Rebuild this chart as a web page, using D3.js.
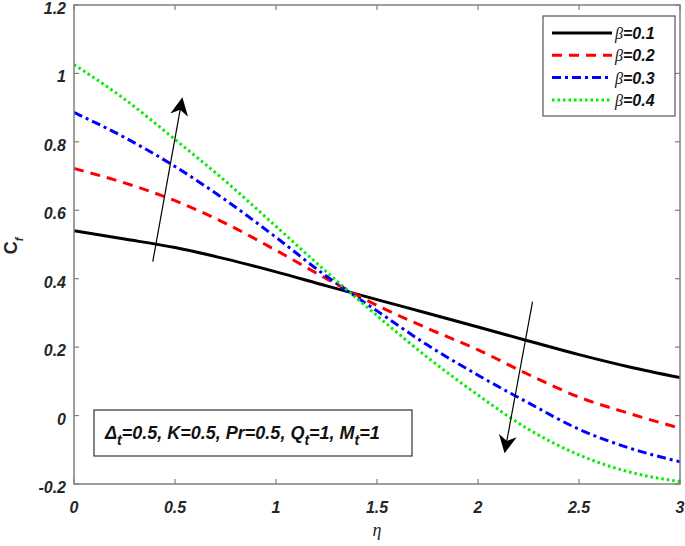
<!DOCTYPE html>
<html>
<head>
  <meta charset="utf-8">
  <script src="https://cdn.jsdelivr.net/npm/d3@7"></script>
  <style>
    body { margin: 0; background: #fff; }
    text { font-family: Arial, "Liberation Sans", sans-serif; }
  </style>
</head>
<body>
  <svg id="chart" width="685" height="546"></svg>
  <script>
    // data
    var eta   = [0, 0.25, 0.5, 0.75, 1.0, 1.25, 1.5, 1.75, 2.0, 2.25, 2.5, 2.75, 3.0];
    var beta1 = [0.540, 0.516, 0.491, 0.458, 0.420, 0.379, 0.339, 0.299, 0.259, 0.218, 0.178, 0.142, 0.111];
    var beta2 = [0.722, 0.680, 0.628, 0.562, 0.483, 0.400, 0.322, 0.255, 0.192, 0.120, 0.054, 0.006, -0.037];
    var beta3 = [0.886, 0.813, 0.728, 0.630, 0.521, 0.407, 0.306, 0.206, 0.118, 0.037, -0.040, -0.095, -0.135];
    var beta4 = [1.026, 0.925, 0.807, 0.685, 0.553, 0.420, 0.292, 0.170, 0.060, -0.040, -0.115, -0.165, -0.193];
    var seriesNames = ["0.1", "0.2", "0.3", "0.4"];
    var xTicks = [0, 0.5, 1, 1.5, 2, 2.5, 3];
    var yTicks = [-0.2, 0, 0.2, 0.4, 0.6, 0.8, 1, 1.2];
    // arrow annotations [eta, value] tail -> tip
    var arrowUp   = [[0.39, 0.45], [0.535, 0.925]];
    var arrowDown = [[2.27, 0.333], [2.133, -0.105]];

    var svg = d3.select("#chart");
    var margin = {top: 5, bottom: 62, left: 74, right: 5};
    var width  = 685 - margin.left - margin.right;
    var height = 546 - margin.top - margin.bottom;

    var x = d3.scaleLinear().domain([0, 3]).range([margin.left, margin.left + width]);
    var y = d3.scaleLinear().domain([-0.2, 1.2]).range([margin.top + height, margin.top]);

    var styles = [
      {color: "#000000", dash: null},
      {color: "#ff0000", dash: "10,7"},
      {color: "#0000ff", dash: "9,4,3,4"},
      {color: "#00ee00", dash: "2.5,3"}
    ];
    var allSeries = [beta1, beta2, beta3, beta4];

    var line = d3.line().x(function(d) { return x(d[0]); }).y(function(d) { return y(d[1]); })
                 .curve(d3.curveMonotoneX);

    var defs = svg.append("defs");
    defs.append("clipPath").attr("id", "clip").append("rect")
        .attr("x", margin.left).attr("y", margin.top).attr("width", width).attr("height", height);
    defs.append("marker").attr("id", "head").attr("viewBox", "0 0 10 10")
        .attr("refX", 9).attr("refY", 5).attr("markerWidth", 18).attr("markerHeight", 18)
        .attr("markerUnits", "userSpaceOnUse").attr("orient", "auto")
        .append("path").attr("d", "M0,0 L10,5 L0,10 L3,5 Z").attr("fill", "#000");

    // curves
    var g = svg.append("g").attr("clip-path", "url(#clip)");
    allSeries.forEach(function(s, i) {
      g.append("path").datum(eta.map(function(e, k) { return [e, s[k]]; }))
       .attr("d", line).attr("fill", "none")
       .attr("stroke", styles[i].color).attr("stroke-width", 3)
       .attr("stroke-dasharray", styles[i].dash);
    });

    // axes (box style, ticks inside)
    var axisColor = "#7f7f7f";
    var tickLen = 5;
    var ax = svg.append("g");
    ax.append("rect").attr("x", margin.left).attr("y", margin.top).attr("width", width).attr("height", height)
      .attr("fill", "none").attr("stroke", axisColor).attr("stroke-width", 1.5);
    xTicks.forEach(function(t) {
      ax.append("line").attr("x1", x(t)).attr("x2", x(t)).attr("y1", y(-0.2)).attr("y2", y(-0.2) - tickLen)
        .attr("stroke", axisColor).attr("stroke-width", 1.2);
      ax.append("line").attr("x1", x(t)).attr("x2", x(t)).attr("y1", y(1.2)).attr("y2", y(1.2) + tickLen)
        .attr("stroke", axisColor).attr("stroke-width", 1.2);
      ax.append("text").attr("x", x(t)).attr("y", y(-0.2) + 29).text(t)
        .attr("text-anchor", "middle").style("font-size", "16px").style("font-weight", "bold")
        .style("font-style", "italic").attr("fill", "#262626");
    });
    yTicks.forEach(function(t) {
      ax.append("line").attr("x1", x(0)).attr("x2", x(0) + tickLen).attr("y1", y(t)).attr("y2", y(t))
        .attr("stroke", axisColor).attr("stroke-width", 1.2);
      ax.append("line").attr("x1", x(3)).attr("x2", x(3) - tickLen).attr("y1", y(t)).attr("y2", y(t))
        .attr("stroke", axisColor).attr("stroke-width", 1.2);
      ax.append("text").attr("x", x(0) - 8).attr("y", y(t) + 9).text(t)
        .attr("text-anchor", "end").style("font-size", "16px").style("font-weight", "bold")
        .style("font-style", "italic").attr("fill", "#262626");
    });

    // axis labels
    svg.append("text").attr("x", x(1.5)).attr("y", 536).text("η")
       .attr("text-anchor", "middle").style("font-size", "18px").style("font-style", "italic")
       .style("font-family", "'Times New Roman', 'Liberation Serif', serif").attr("fill", "#262626");
    var yl = svg.append("text").attr("transform", "translate(17,246) rotate(-90)")
       .attr("text-anchor", "middle").attr("fill", "#262626").style("font-size", "18px").style("font-weight", "bold");
    yl.append("tspan").text("C");
    yl.append("tspan").text("f").attr("dy", 6).style("font-size", "11px").style("font-style", "italic");

    // arrows
    [arrowUp, arrowDown].forEach(function(a) {
      svg.append("line").attr("x1", x(a[0][0])).attr("y1", y(a[0][1]))
         .attr("x2", x(a[1][0])).attr("y2", y(a[1][1]))
         .attr("stroke", "#000").attr("stroke-width", 1.2).attr("marker-end", "url(#head)");
    });

    // legend
    var lg = svg.append("g");
    lg.append("rect").attr("x", 543).attr("y", 16).attr("width", 132).attr("height", 100)
      .attr("fill", "#fff").attr("stroke", "#555").attr("stroke-width", 1.2);
    seriesNames.forEach(function(n, i) {
      var ly = 33 + i * 22.3;
      lg.append("line").attr("x1", 552).attr("x2", 612).attr("y1", ly).attr("y2", ly)
        .attr("stroke", styles[i].color).attr("stroke-width", 3).attr("stroke-dasharray", styles[i].dash);
      var t = lg.append("text").attr("x", 615).attr("y", ly + 6).attr("fill", "#111")
        .style("font-size", "16px").style("font-weight", "bold").style("font-style", "italic");
      t.append("tspan").text("β").style("font-family", "'Times New Roman', 'Liberation Serif', serif")
        .style("font-weight", "normal");
      t.append("tspan").text("=" + n);
    });

    // parameter box
    var pb = svg.append("g");
    pb.append("rect").attr("x", 94).attr("y", 410).attr("width", 318).attr("height", 46)
      .attr("fill", "#fff").attr("stroke", "#333").attr("stroke-width", 1.2);
    var pt = pb.append("text").attr("x", 105).attr("y", 439).attr("fill", "#111")
      .style("font-size", "18px").style("font-weight", "bold").style("font-style", "italic");
    var parts = [["Δ", "t", "=0.5, K=0.5, Pr=0.5, "], ["Q", "t", "=1, "], ["M", "t", "=1"]];
    parts.forEach(function(p) {
      pt.append("tspan").text(p[0]);
      pt.append("tspan").text(p[1]).attr("dy", 6).style("font-size", "14px");
      pt.append("tspan").text(p[2]).attr("dy", -6);
    });
  </script>
</body>
</html>
